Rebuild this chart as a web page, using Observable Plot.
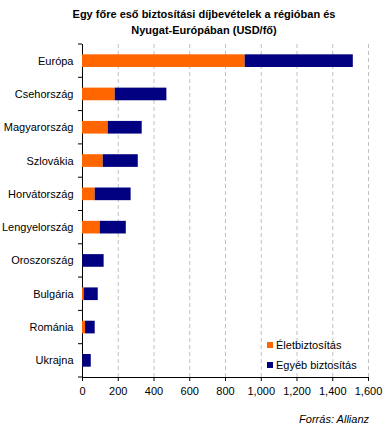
<!DOCTYPE html>
<html>
<head>
<meta charset="utf-8">
<script src="https://cdn.jsdelivr.net/npm/d3@7"></script>
<script src="https://cdn.jsdelivr.net/npm/@observablehq/plot@0.6"></script>
<style>
  body { margin: 0; background: #fff; font-family: "Liberation Sans", Arial, sans-serif; }
  #wrap { position: relative; width: 387px; height: 427px; overflow: hidden; }
  #title { position: absolute; left: 21px; width: 366px; top: 6px; text-align: center;
           font-weight: bold; font-size: 11px; line-height: 16px; color: #000; }
  #chart { position: absolute; left: 0; top: 40px; }
  #legend { position: absolute; left: 267px; top: 338px; font-size: 11px; color: #000; }
  .li { display: flex; align-items: center; height: 14px; margin-bottom: 6px; }
  .sw { width: 6px; height: 6px; margin-right: 3px; }
  #caption { position: absolute; right: 18px; top: 413px; font-style: italic; font-size: 11px; color: #000; }
</style>
</head>
<body>
<div id="wrap">
  <div id="title">Egy főre eső biztosítási díjbevételek a régióban és<br>Nyugat-Európában (USD/fő)</div>
  <div id="chart"></div>
  <div id="legend"></div>
  <div id="caption">Forrás: Allianz</div>
</div>
<script>
const countries = ["Európa","Csehország","Magyarország","Szlovákia","Horvátország","Lengyelország","Oroszország","Bulgária","Románia","Ukrajna"];
const series = ["Életbiztosítás","Egyéb biztosítás"];
const colors = ["#FF6600","#000080"];
const lifeValues  = [910, 183, 144, 116, 71, 99, 1, 9, 17, 1];
const otherValues = [605, 289, 190, 196, 201, 146, 120, 79, 54, 48];
const xTicks = [0, 200, 400, 600, 800, 1000, 1200, 1400, 1600];

const data = [];
countries.forEach((c, i) => {
  data.push({country: c, series: series[0], value: lifeValues[i]});
  data.push({country: c, series: series[1], value: otherValues[i]});
});

const chart = Plot.plot({
  width: 387,
  height: 365,
  marginLeft: 82,
  marginRight: 19,
  marginTop: 4,
  marginBottom: 28,
  style: {fontFamily: "'Liberation Sans', Arial, sans-serif", fontSize: "11px", color: "#000", background: "#fff"},
  x: {domain: [0, 1600], ticks: xTicks, tickFormat: d3.format(","), tickSize: 4, tickPadding: 6, line: true, label: null},
  y: {domain: countries, paddingInner: 0.62, paddingOuter: 0.31, round: false, tickSize: 0, tickPadding: 9, line: true, label: null},
  color: {domain: series, range: colors},
  marks: [
    Plot.ruleX(xTicks.filter(d => d > 0), {stroke: "#c0c0c0", strokeDasharray: "4,3", strokeWidth: 1}),
    Plot.barX(data, {x: "value", y: "country", fill: "series", order: series}),
  ]
});

// tick marks at band boundaries (Excel-style category axis)
const ys = chart.scale("y");
const r0 = ys.range[0], r1 = ys.range[1];
const step = (r1 - r0) / countries.length;
const g = d3.select(chart).append("g").attr("stroke", "#000");
d3.range(countries.length + 1).forEach(i => {
  const yy = r0 + i * step;
  g.append("line").attr("x1", 78).attr("x2", 82).attr("y1", yy).attr("y2", yy);
});
document.getElementById("chart").appendChild(chart);

const legend = document.getElementById("legend");
series.forEach((s, i) => {
  const row = document.createElement("div");
  row.className = "li";
  row.innerHTML = `<span class="sw" style="background:${colors[i]}"></span><span>${s}</span>`;
  legend.appendChild(row);
});
</script>
</body>
</html>
